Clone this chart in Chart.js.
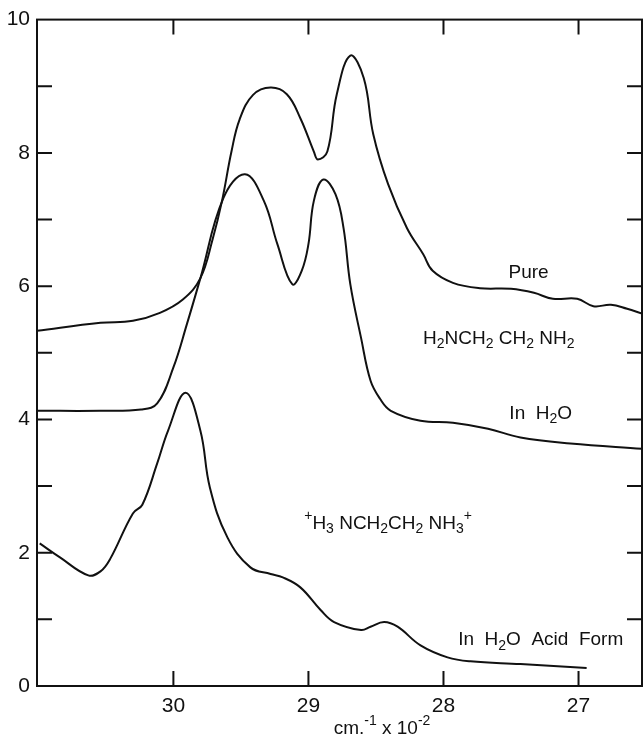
<!DOCTYPE html>
<html>
<head>
<meta charset="utf-8">
<script src="https://cdn.jsdelivr.net/npm/chart.js@4/dist/chart.umd.min.js"></script>
<style>
  body { margin: 0; background: #fff; }
  canvas { display: block; }
</style>
</head>
<body>
<canvas id="chart" width="643" height="739"></canvas>
<script>
// wavenumber (cm-1 x 10^-2) and absorbance
var pureX = [31.01, 30.54, 30.30, 30.10, 29.93, 29.80, 29.71, 29.64, 29.57, 29.51, 29.41, 29.28, 29.16, 29.06, 28.96, 28.93, 28.86, 28.79, 28.69, 28.59, 28.52, 28.41, 28.27, 28.15, 28.08, 27.93, 27.73, 27.50, 27.33, 27.19, 27.01, 26.89, 26.76, 26.64, 26.53];
var pureY = [5.33, 5.45, 5.48, 5.60, 5.80, 6.12, 6.70, 7.28, 8.02, 8.50, 8.87, 8.98, 8.88, 8.52, 8.02, 7.90, 8.02, 8.88, 9.46, 9.12, 8.28, 7.53, 6.87, 6.48, 6.23, 6.05, 5.97, 5.96, 5.90, 5.81, 5.81, 5.70, 5.72, 5.66, 5.59];

var waterX = [31.01, 30.54, 30.24, 30.12, 30.00, 29.90, 29.80, 29.63, 29.47, 29.33, 29.23, 29.12, 29.05, 29.00, 28.96, 28.89, 28.80, 28.74, 28.69, 28.61, 28.54, 28.47, 28.39, 28.17, 27.93, 27.67, 27.43, 27.06, 26.53];
var waterY = [4.13, 4.13, 4.15, 4.24, 4.78, 5.43, 6.12, 7.32, 7.68, 7.28, 6.63, 6.03, 6.23, 6.63, 7.28, 7.60, 7.38, 6.87, 6.03, 5.22, 4.58, 4.31, 4.13, 3.98, 3.95, 3.86, 3.73, 3.64, 3.56];

var acidX = [30.99, 30.84, 30.63, 30.54, 30.47, 30.30, 30.23, 30.12, 30.04, 29.91, 29.80, 29.73, 29.60, 29.43, 29.28, 29.19, 29.06, 28.91, 28.81, 28.61, 28.54, 28.44, 28.34, 28.17, 27.97, 27.80, 27.43, 26.94];
var acidY = [2.14, 1.93, 1.66, 1.72, 1.90, 2.59, 2.72, 3.34, 3.83, 4.40, 3.83, 2.98, 2.23, 1.78, 1.68, 1.63, 1.48, 1.14, 0.96, 0.84, 0.89, 0.96, 0.89, 0.61, 0.43, 0.37, 0.33, 0.27];

var xTicks = [30, 29, 28, 27];
var yTicks = [0, 2, 4, 6, 8, 10];
var yMinor = [1, 2, 3, 4, 5, 6, 7, 8, 9];

var ink = "#111";
var fontFamily = "'Liberation Sans', Arial, sans-serif";

function pts(xs, ys) {
  return xs.map(function (x, i) { return { x: x, y: ys[i] }; });
}

function series(label, xs, ys) {
  return {
    label: label,
    data: pts(xs, ys),
    borderColor: ink,
    borderWidth: 2,
    pointRadius: 0,
    fill: false,
    tension: 0.4,
  };
}

// text pieces: [text, "n" normal | "b" subscript | "p" superscript]
var notes = [
  { x: 27.37, y: 6.2, parts: [["Pure", "n"]] },
  { x: 27.59, y: 5.21, parts: [["H", "n"], ["2", "b"], ["NCH", "n"], ["2", "b"], [" CH", "n"], ["2", "b"], [" NH", "n"], ["2", "b"]] },
  { x: 27.28, y: 4.09, parts: [["In  H", "n"], ["2", "b"], ["O", "n"]] },
  { x: 28.41, y: 2.44, parts: [["+", "p"], ["H", "n"], ["3", "b"], [" NCH", "n"], ["2", "b"], ["CH", "n"], ["2", "b"], [" NH", "n"], ["3", "b"], ["+", "p"]] },
  { x: 27.28, y: 0.69, parts: [["In  H", "n"], ["2", "b"], ["O  Acid  Form", "n"]] },
];

function drawParts(ctx, parts, cx, cy, size) {
  var small = Math.round(size * 0.72);
  var w = 0;
  parts.forEach(function (p) {
    ctx.font = (p[1] === "n" ? size : small) + "px " + fontFamily;
    w += ctx.measureText(p[0]).width;
  });
  var x = cx - w / 2;
  ctx.textBaseline = "middle";
  ctx.textAlign = "left";
  parts.forEach(function (p) {
    var dy = 0;
    if (p[1] === "b") dy = size * 0.3;
    if (p[1] === "p") dy = -size * 0.4;
    ctx.font = (p[1] === "n" ? size : small) + "px " + fontFamily;
    ctx.fillText(p[0], x, cy + dy);
    x += ctx.measureText(p[0]).width;
  });
}

var framePlugin = {
  id: "frame",
  afterDraw: function (chart) {
    var ctx = chart.ctx;
    var a = chart.chartArea;
    var xs = chart.scales.x;
    var ys = chart.scales.y;
    var t = 15;
    ctx.save();
    ctx.strokeStyle = ink;
    ctx.lineWidth = 2;
    ctx.strokeRect(a.left, a.top, a.right - a.left, a.bottom - a.top);
    ctx.beginPath();
    xTicks.forEach(function (v) {
      var px = xs.getPixelForValue(v);
      ctx.moveTo(px, a.bottom);
      ctx.lineTo(px, a.bottom - t);
      ctx.moveTo(px, a.top);
      ctx.lineTo(px, a.top + t);
    });
    yMinor.forEach(function (v) {
      var py = ys.getPixelForValue(v);
      ctx.moveTo(a.left, py);
      ctx.lineTo(a.left + t, py);
      ctx.moveTo(a.right, py);
      ctx.lineTo(a.right - t, py);
    });
    ctx.stroke();

    ctx.fillStyle = ink;
    notes.forEach(function (n) {
      drawParts(ctx, n.parts, xs.getPixelForValue(n.x), ys.getPixelForValue(n.y), 19);
    });
    drawParts(ctx, [["cm.", "n"], ["-1", "p"], [" x 10", "n"], ["-2", "p"]], 382, 729, 19);
    ctx.restore();
  },
};

new Chart(document.getElementById("chart"), {
  type: "line",
  data: {
    datasets: [
      series("Pure", pureX, pureY),
      series("In H2O", waterX, waterY),
      series("In H2O Acid Form", acidX, acidY),
    ],
  },
  options: {
    responsive: false,
    animation: false,
    layout: { padding: { top: 18, right: 1, left: 0, bottom: 0 } },
    plugins: { legend: { display: false }, tooltip: { enabled: false } },
    scales: {
      x: {
        type: "linear",
        reverse: true,
        min: 26.53,
        max: 31.01,
        afterBuildTicks: function (s) {
          s.ticks = xTicks.map(function (v) { return { value: v }; });
        },
        afterFit: function (s) { s.height = 53; },
        grid: { display: false, drawTicks: false },
        border: { display: false },
        ticks: { color: ink, padding: 8, font: { size: 21, family: fontFamily } },
      },
      y: {
        min: 0,
        max: 10,
        afterBuildTicks: function (s) {
          s.ticks = yTicks.map(function (v) { return { value: v }; });
        },
        afterFit: function (s) { s.width = 37; },
        grid: { display: false, drawTicks: false },
        border: { display: false },
        ticks: { color: ink, padding: 7, font: { size: 21, family: fontFamily } },
      },
    },
  },
  plugins: [framePlugin],
});
</script>
</body>
</html>
